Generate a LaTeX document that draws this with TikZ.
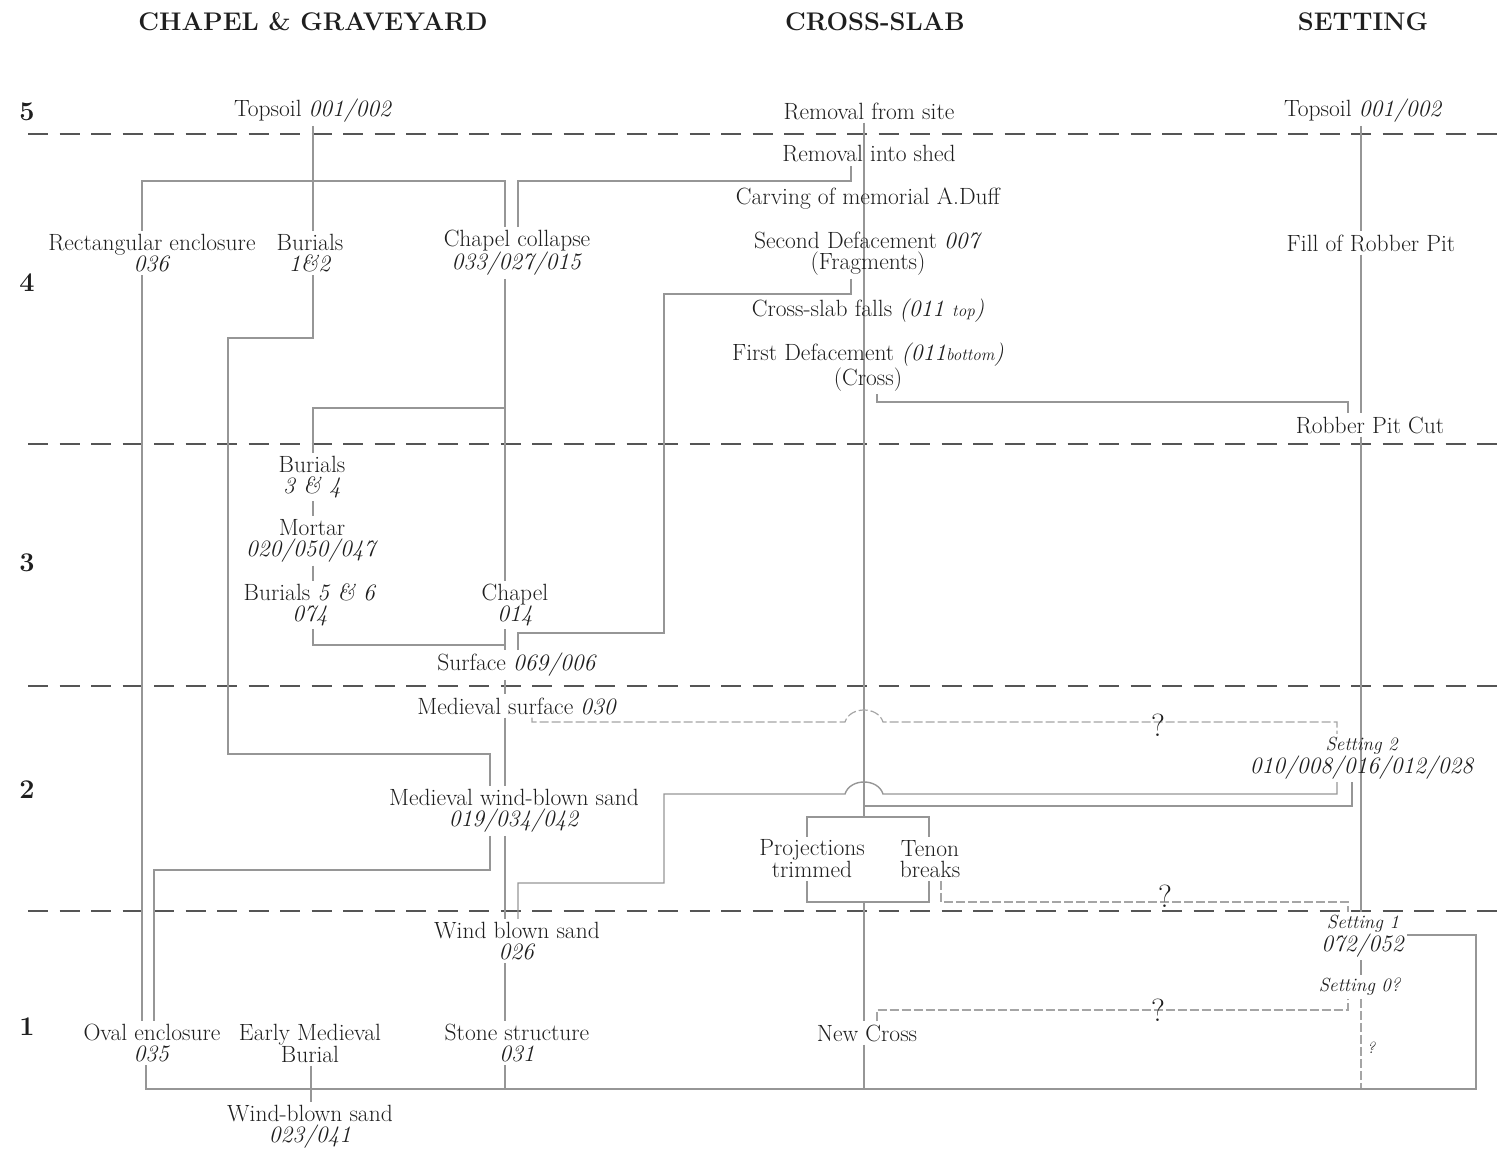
\documentclass[tikz,border=0pt]{standalone}
\usepackage{fontspec}
\usetikzlibrary{backgrounds}
\definecolor{txt}{RGB}{30,30,30}
\definecolor{ln}{RGB}{150,150,150}
\definecolor{bandc}{RGB}{85,85,85}
\definecolor{qc}{RGB}{165,165,165}
\begin{document}
\begin{tikzpicture}[x=1pt,y=-1pt,
  lbl/.style={inner xsep=2pt, inner ysep=3pt, align=center, text=txt, font=\fontsize{23.5}{21}\selectfont},
  hdr/.style={inner sep=0pt, text=txt, font=\bfseries\fontsize{25.5}{27}\selectfont},
  bandno/.style={inner sep=0pt, text=txt, font=\bfseries\fontsize{27}{28}\selectfont},
  qmark/.style={inner sep=0pt, text=txt, font=\fontsize{32}{32}\selectfont},
  conn/.style={draw=ln, line width=1.4pt},
  qline/.style={draw=qc, line width=1.2pt, dash pattern=on 9pt off 3pt},
  bandline/.style={draw=bandc, line width=2.6pt, dash pattern=on 20pt off 11.5pt},
]
\useasboundingbox (0,0) rectangle (1502,1151);

% headers and band numbers
\node[hdr] (hcg) at (313,22) {CHAPEL \& GRAVEYARD};
\node[hdr] (hcs) at (875,22) {CROSS-SLAB};
\node[hdr] (hst) at (1363,22) {SETTING};
\node[bandno] (b5) at (27,112) {5};
\node[bandno] (b4) at (27,283) {4};
\node[bandno] (b3) at (27,563) {3};
\node[bandno] (b2) at (27,790) {2};
\node[bandno] (b1) at (27,1027) {1};

% column x positions
\coordinate (cRect) at (142,0);
\coordinate (cBL2) at (146,0);
\coordinate (cOv) at (154,0);
\coordinate (cBL) at (228,0);
\coordinate (cB2) at (311,0);
\coordinate (cB) at (313,0);
\coordinate (cMW) at (490,0);
\coordinate (cChL) at (505,0);
\coordinate (cChR) at (518,0);
\coordinate (cMS) at (532,0);
\coordinate (cS) at (664,0);
\coordinate (cP) at (807,0);
\coordinate (cXs) at (851,0);
\coordinate (cX) at (864,0);
\coordinate (cXr) at (877,0);
\coordinate (cT) at (929,0);
\coordinate (cTn) at (941,0);
\coordinate (cRs2) at (1337,0);
\coordinate (cRs) at (1348,0);
\coordinate (cRsb) at (1352,0);
\coordinate (cR) at (1361,0);
\coordinate (cBR) at (1476,0);
% row y positions
\coordinate (h181) at (0,181);
\coordinate (h294) at (0,294);
\coordinate (h338) at (0,338);
\coordinate (h402) at (0,402);
\coordinate (h408) at (0,408);
\coordinate (h633) at (0,633);
\coordinate (h645) at (0,645);
\coordinate (h722) at (0,722);
\coordinate (h754) at (0,754);
\coordinate (h794) at (0,794);
\coordinate (h806) at (0,806);
\coordinate (h817) at (0,817);
\coordinate (h870) at (0,870);
\coordinate (h883) at (0,883);
\coordinate (h902) at (0,902);
\coordinate (h935) at (0,935);
\coordinate (h1010) at (0,1010);
\coordinate (hBot) at (0,1089);
% junctions and hops
\coordinate (j408) at (505,408);
\coordinate (j806) at (864,806);
\coordinate (hopA1) at (845,794);
\coordinate (hopA2) at (883,794);
\coordinate (hopB1) at (845,722);
\coordinate (hopB2) at (883,722);

% nodes
\node[lbl] (topL) at (313,111) {Topsoil \textit{001/002}};
\node[lbl] (remsite) at (869,111) {Removal from site};
\node[lbl] (topR) at (1363,111) {Topsoil \textit{001/002}};
\node[lbl] (shed) at (869,154) {Removal into shed};
\node[lbl] (carv) at (868,199) {Carving of memorial A.Duff};
\node[lbl] (def2) at (868,254) {Second Defacement \textit{007}\\(Fragments)};
\node[lbl] (falls) at (868,311) {Cross-slab falls \textit{(011 {\fontsize{17}{17}\selectfont top})}};
\node[lbl] (def1) at (868,367) {First Defacement \textit{(011{\fontsize{17}{17}\selectfont bottom})}\\(Cross)};
\node[lbl] (rect) at (152,253) {Rectangular enclosure\\\textit{036}};
\node[lbl] (bur12) at (310,253) {Burials\\\textit{1\&2}};
\node[lbl] (collapse) at (517,253) {Chapel collapse\\\textit{033/027/015}};
\node[lbl] (fill) at (1371,243) {Fill of Robber Pit};
\node[lbl] (rpcut) at (1370,425) {Robber Pit Cut};
\node[lbl] (bur34) at (312,477) {Burials\\\textit{3 \& 4}};
\node[lbl] (mortar) at (312,541) {Mortar\\\textit{020/050/047}};
\node[lbl] (bur56) at (310,605) {Burials \textit{5 \& 6}\\\textit{074}};
\node[lbl] (chapel) at (515,605) {Chapel\\\textit{014}};
\node[lbl] (surface) at (517,665) {Surface \textit{069/006}};
\node[lbl] (medsurf) at (517,706) {Medieval surface \textit{030}};
\node[lbl] (mwbs) at (514,811) {Medieval wind-blown sand\\\textit{019/034/042}};
\node[lbl] (set2) at (1362,758) {\textit{{\fontsize{19}{19}\selectfont Setting 2}}\\\textit{010/008/016/012/028}};
\node[lbl] (proj) at (812,859) {Projections\\trimmed};
\node[lbl] (tenon) at (930,859) {Tenon\\breaks};
\node[lbl] (wbs) at (517,941) {Wind blown sand\\\textit{026}};
\node[lbl] (set1) at (1363,936) {\textit{{\fontsize{19}{19}\selectfont Setting 1}}\\\textit{072/052}};
\node[lbl] (set0) at (1360,987) {\textit{\fontsize{19}{19}\selectfont Setting 0?}};
\node[lbl] (oval) at (152,1043) {Oval enclosure\\\textit{035}};
\node[lbl] (emb) at (310,1043) {Early Medieval\\Burial};
\node[lbl] (stone) at (517,1043) {Stone structure\\\textit{031}};
\node[lbl] (newx) at (867,1033) {New Cross};
\node[lbl] (wbs2) at (310,1127) {Wind-blown sand\\\textit{023/041}};
\node[qmark] (q1) at (1158,725) {?};
\node[qmark] (q2) at (1165,896) {?};
\node[qmark] (q3) at (1158,1010) {?};
\node[qmark, font=\itshape\fontsize{16}{16}\selectfont] (q4) at (1371,1048) {?};

\begin{scope}[on background layer]
% band separators
\foreach \yy in {134,444,686,911} \draw[bandline] (28,\yy) -- (1502,\yy);

% chapel & graveyard column
\draw[conn] (topL.south -| cB) -- (bur12.north -| cB);
\draw[conn] (rect.north -| cRect) -- (cRect |- h181) -- (cChL |- h181) -- (collapse.north -| cChL);
\draw[conn] (collapse.north -| cChR) -- (cChR |- h181) -- (cXs |- h181) -- (shed.south -| cXs);
\draw[conn] (rect.south -| cRect) -- (oval.north -| cRect);
\draw[conn] (bur12.south -| cB) -- (cB |- h338) -- (cBL |- h338) -- (cBL |- h754) -- (cMW |- h754) -- (mwbs.north -| cMW);
\draw[conn] (collapse.south -| cChL) -- (chapel.north -| cChL);
\draw[conn] (j408) -- (cB |- h408) -- (bur34.north -| cB);
\draw[conn] (bur34.south -| cB) -- (mortar.north -| cB);
\draw[conn] (mortar.south -| cB) -- (bur56.north -| cB);
\draw[conn] (bur56.south -| cB) -- (cB |- h645) -- (cChL |- h645);
\draw[conn] (chapel.south -| cChL) -- (surface.north -| cChL);
\draw[conn] (surface.south -| cChL) -- (medsurf.north -| cChL);
\draw[conn] (medsurf.south -| cChL) -- (mwbs.north -| cChL);
\draw[conn] (mwbs.south -| cChL) -- (wbs.north -| cChL);
\draw[conn] (wbs.south -| cChL) -- (stone.north -| cChL);
\draw[conn] (stone.south -| cChL) -- (cChL |- hBot);
\draw[conn] (mwbs.south -| cMW) -- (cMW |- h870) -- (cOv |- h870) -- (oval.north -| cOv);
\draw[conn] (emb.south -| cB2) -- (wbs2.north -| cB2);

% cross-slab column
\draw[conn] (remsite.south -| cX) -- (shed -| cX) -- (carv -| cX) -- (def2 -| cX) -- (falls -| cX) -- (def1 -| cX) -- (cX |- h817);
\draw[conn] (def2.south -| cXs) -- (cXs |- h294) -- (cS |- h294) -- (cS |- h633) -- (cChR |- h633) -- (surface.north -| cChR);
\draw[conn] (def1.south -| cXr) -- (cXr |- h402) -- (cRs |- h402) -- (rpcut.north -| cRs);
\draw[conn] (proj.north -| cP) -- (cP |- h817) -- (cT |- h817) -- (tenon.north -| cT);
\draw[conn] (proj.south -| cP) -- (cP |- h902) -- (cT |- h902) -- (tenon.south -| cT);
\draw[conn] (cX |- h902) -- (newx.north -| cX);
\draw[conn] (newx.south -| cX) -- (cX |- hBot);
\draw[conn] (j806) -- (cRsb |- h806) -- (set2.south -| cRsb);
\draw[conn] (wbs.north -| cChR) -- (cChR |- h883) -- (cS |- h883) -- (cS |- h794) -- (hopA1)
  .. controls +(5,-16) and +(-5,-16) .. (hopA2) -- (cRs2 |- h794) -- (set2.south -| cRs2);
\draw[qline] (medsurf.south -| cMS) -- (cMS |- h722) -- (hopB1)
  .. controls +(5,-16) and +(-5,-16) .. (hopB2) -- (cRs2 |- h722) -- (set2.north -| cRs2);
\draw[qline] (tenon.south -| cTn) -- (cTn |- h902) -- (cRs |- h902) -- (set1.north -| cRs);
\draw[qline] (newx.north -| cXr) -- (cXr |- h1010) -- (cRs |- h1010) -- (set0.south -| cRs);

% setting column
\draw[conn] (topR.south -| cR) -- (fill.north -| cR);
\draw[conn] (fill.south -| cR) -- (rpcut.north -| cR);
\draw[conn] (rpcut.south -| cR) -- (set2 -| cR) -- (set1.north -| cR);
\draw[conn] (set1.south -| cR) -- (set0.north -| cR);
\draw[qline] (set0.south -| cR) -- (cR |- hBot);

% base line
\draw[conn] (oval.south -| cBL2) -- (cBL2 |- hBot) -- (cBR |- hBot) -- (cBR |- h935) -- (set1.east |- h935);
\end{scope}
\end{tikzpicture}
\end{document}
